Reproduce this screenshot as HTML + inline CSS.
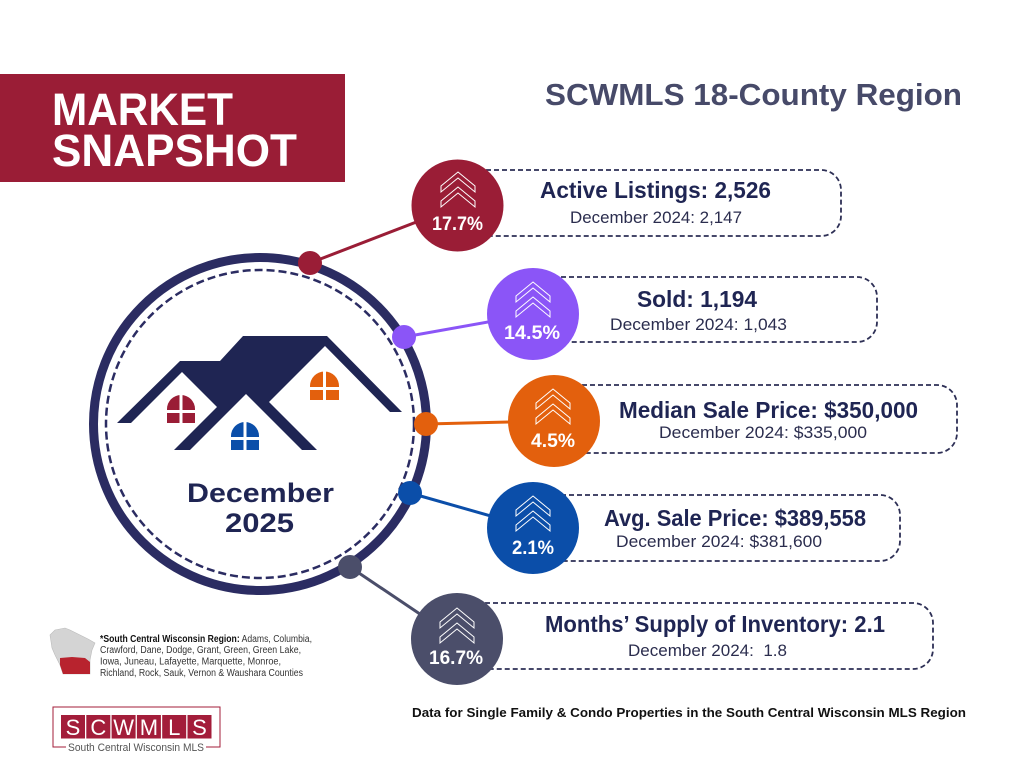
<!DOCTYPE html>
<html>
<head>
<meta charset="utf-8">
<style>
  html,body{margin:0;padding:0;background:#ffffff;}
  svg{display:block;}
  text{font-family:"Liberation Sans",Arial,sans-serif;}
</style>
</head>
<body>
<svg width="1022" height="764" viewBox="0 0 1022 764" xmlns="http://www.w3.org/2000/svg">
  <defs>
    <g id="chev">
      <path d="M0,14 L17,0 L34,14 L34,20 L17,6 L0,20 Z" fill="none" stroke="#ffffff" stroke-width="1" stroke-linejoin="miter"/>
      <path d="M0,29 L17,15 L34,29 L34,35 L17,21 L0,35 Z" fill="none" stroke="#ffffff" stroke-width="1" stroke-linejoin="miter"/>
    </g>
  </defs>

  <rect x="0" y="0" width="1022" height="764" fill="#ffffff"/>

  <!-- Market snapshot banner -->
  <rect x="0" y="74" width="345" height="108" fill="#9a1d36"/>
  <text x="52" y="125" font-size="45" font-weight="bold" fill="#ffffff" textLength="181" lengthAdjust="spacingAndGlyphs">MARKET</text>
  <text x="52" y="166" font-size="45" font-weight="bold" fill="#ffffff" textLength="245" lengthAdjust="spacingAndGlyphs">SNAPSHOT</text>

  <!-- Title -->
  <text x="545" y="105" font-size="31" font-weight="bold" fill="#474a69" textLength="417" lengthAdjust="spacingAndGlyphs">SCWMLS 18-County Region</text>

  <!-- Dashed boxes -->
  <g fill="#ffffff" stroke="#2d2f55" stroke-width="1.8" stroke-dasharray="5 3">
    <rect x="458" y="170" width="383" height="66" rx="20" ry="20"/>
    <rect x="533" y="277" width="344" height="65" rx="20" ry="20"/>
    <rect x="554" y="385" width="403" height="68" rx="20" ry="20"/>
    <rect x="533" y="495" width="367" height="66" rx="20" ry="20"/>
    <rect x="457" y="603" width="476" height="66" rx="20" ry="20"/>
  </g>

  <!-- Connector lines -->
  <line x1="310" y1="263" x2="458" y2="206" stroke="#9a1d36" stroke-width="3"/>
  <line x1="404" y1="337" x2="533" y2="314" stroke="#8b55f7" stroke-width="3"/>
  <line x1="426" y1="424" x2="554" y2="421" stroke="#e3600d" stroke-width="3"/>
  <line x1="410" y1="493" x2="533" y2="528" stroke="#0b4ea9" stroke-width="3"/>
  <line x1="350" y1="567" x2="457" y2="639" stroke="#4b4e6a" stroke-width="3"/>

  <!-- Main ring -->
  <circle cx="260" cy="424" r="166.5" fill="#ffffff" stroke="#2b2c62" stroke-width="9"/>
  <circle cx="260" cy="424" r="154" fill="none" stroke="#2b2c62" stroke-width="2.5" stroke-dasharray="8 4"/>

  <!-- Ring dots -->
  <circle cx="310" cy="263" r="12" fill="#9a1d36"/>
  <circle cx="404" cy="337" r="12" fill="#8b55f7"/>
  <circle cx="426" cy="424" r="12" fill="#e3600d"/>
  <circle cx="410" cy="493" r="12" fill="#0b4ea9"/>
  <circle cx="350" cy="567" r="12" fill="#4b4e6a"/>

  <!-- Houses -->
  <polygon fill="#1f2553" points="117,423 180,361 220,361 243,336 327,336 402,412 390,412 325,346 269,402 317,450 302,450 246,394 190,450 174,450 217,407 182,372 131,423"/>

  <!-- Windows -->
  <g>
    <path d="M167,409 A14,14 0 0 1 195,409 L195,423 L167,423 Z" fill="#9a1d36"/>
    <rect x="179.5" y="394" width="3" height="30" fill="#ffffff"/>
    <rect x="166" y="410" width="30" height="3" fill="#ffffff"/>
  </g>
  <g>
    <path d="M231,436 A14,14 0 0 1 259,436 L259,450 L231,450 Z" fill="#0b4ea9"/>
    <rect x="243.5" y="421" width="3" height="30" fill="#ffffff"/>
    <rect x="230" y="437" width="30" height="3" fill="#ffffff"/>
  </g>
  <g>
    <path d="M310,386 A14.5,14.5 0 0 1 339,386 L339,400 L310,400 Z" fill="#e3600d"/>
    <rect x="323" y="371" width="3" height="30" fill="#ffffff"/>
    <rect x="309" y="387" width="31" height="3" fill="#ffffff"/>
  </g>

  <!-- December 2025 -->
  <text x="187" y="502" font-size="27" font-weight="bold" fill="#1f2553" textLength="147" lengthAdjust="spacingAndGlyphs">December</text>
  <text x="225" y="532" font-size="27" font-weight="bold" fill="#1f2553" textLength="69" lengthAdjust="spacingAndGlyphs">2025</text>

  <!-- Badge circles -->
  <circle cx="457.5" cy="205.5" r="46" fill="#9a1d36"/>
  <circle cx="533" cy="314" r="46" fill="#8b55f7"/>
  <circle cx="554" cy="421" r="46" fill="#e3600d"/>
  <circle cx="533" cy="528" r="46" fill="#0b4ea9"/>
  <circle cx="457" cy="639" r="46" fill="#4b4e6a"/>

  <!-- Chevrons -->
  <use href="#chev" x="441" y="172"/>
  <use href="#chev" x="516" y="282"/>
  <use href="#chev" x="536" y="389"/>
  <use href="#chev" x="516" y="496"/>
  <use href="#chev" x="440" y="608"/>

  <!-- Percentages -->
  <g font-size="19" font-weight="bold" fill="#ffffff" text-anchor="middle">
    <text x="457.5" y="230" textLength="51" lengthAdjust="spacingAndGlyphs">17.7%</text>
    <text x="532" y="339" textLength="56" lengthAdjust="spacingAndGlyphs">14.5%</text>
    <text x="553" y="447" textLength="44" lengthAdjust="spacingAndGlyphs">4.5%</text>
    <text x="533" y="554" textLength="42" lengthAdjust="spacingAndGlyphs">2.1%</text>
    <text x="456" y="664" textLength="54" lengthAdjust="spacingAndGlyphs">16.7%</text>
  </g>

  <!-- Metric headings -->
  <g font-size="23" font-weight="bold" fill="#1f2553">
    <text x="540" y="198" textLength="231" lengthAdjust="spacingAndGlyphs">Active Listings: 2,526</text>
    <text x="637" y="307" textLength="120" lengthAdjust="spacingAndGlyphs">Sold: 1,194</text>
    <text x="619" y="418" textLength="299" lengthAdjust="spacingAndGlyphs">Median Sale Price: $350,000</text>
    <text x="604" y="526" textLength="262" lengthAdjust="spacingAndGlyphs">Avg. Sale Price: $389,558</text>
    <text x="545" y="632" textLength="340" lengthAdjust="spacingAndGlyphs">Months’ Supply of Inventory: 2.1</text>
  </g>

  <!-- Metric subtexts -->
  <g font-size="16.5" fill="#2b2d4e">
    <text x="570" y="223" textLength="172" lengthAdjust="spacingAndGlyphs">December 2024: 2,147</text>
    <text x="610" y="330" textLength="177" lengthAdjust="spacingAndGlyphs">December 2024: 1,043</text>
    <text x="659" y="438" textLength="208" lengthAdjust="spacingAndGlyphs">December 2024: $335,000</text>
    <text x="616" y="547" textLength="206" lengthAdjust="spacingAndGlyphs">December 2024: $381,600</text>
    <text x="628" y="656" textLength="159" lengthAdjust="spacingAndGlyphs" xml:space="preserve">December 2024:  1.8</text>
  </g>

  <!-- Bottom data note -->
  <text x="412" y="717" font-size="12.5" font-weight="bold" fill="#111111" textLength="554" lengthAdjust="spacingAndGlyphs">Data for Single Family &amp; Condo Properties in the South Central Wisconsin MLS Region</text>

  <!-- Wisconsin map -->
  <path d="M50,635 L55,630 L65,628 L70,630 L80,635 L88,639 L95,643 L92,650 L90,660 L90,674 L63,674 L60,665 L55,655 L52,648 Z" fill="#d4d4d4" stroke="#bcbcbc" stroke-width="0.6"/>
  <path d="M60,658 L72,657 L85,658 L90,662 L90,674 L63,674 L60,665 Z" fill="#b8232e"/>

  <!-- Footnote -->
  <g font-size="10" fill="#333333">
    <text x="100" y="642" textLength="212" lengthAdjust="spacingAndGlyphs"><tspan font-weight="bold" fill="#111111">*South Central Wisconsin Region:</tspan> Adams, Columbia,</text>
    <text x="100" y="653" textLength="201" lengthAdjust="spacingAndGlyphs">Crawford, Dane, Dodge, Grant, Green, Green Lake,</text>
    <text x="100" y="664.5" textLength="181" lengthAdjust="spacingAndGlyphs">Iowa, Juneau, Lafayette, Marquette, Monroe,</text>
    <text x="100" y="676" textLength="203" lengthAdjust="spacingAndGlyphs">Richland, Rock, Sauk, Vernon &amp; Waushara Counties</text>
  </g>

  <!-- SCWMLS logo -->
  <g stroke="#a31d3a" stroke-width="1" fill="none">
    <polyline points="66,747 53,747 53,707 220,707 220,747 206,747"/>
  </g>
  <g fill="#a31d3a">
    <rect x="61" y="715" width="24" height="23.5"/>
    <rect x="86.3" y="715" width="24" height="23.5"/>
    <rect x="111.6" y="715" width="24" height="23.5"/>
    <rect x="136.9" y="715" width="24" height="23.5"/>
    <rect x="162.2" y="715" width="24" height="23.5"/>
    <rect x="187.5" y="715" width="24" height="23.5"/>
  </g>
  <g font-size="22" fill="#ffffff" text-anchor="middle">
    <text x="73" y="735">S</text>
    <text x="98.3" y="735">C</text>
    <text x="123.6" y="735">W</text>
    <text x="148.9" y="735">M</text>
    <text x="174.2" y="735">L</text>
    <text x="199.5" y="735">S</text>
  </g>
  <text x="68" y="751" font-size="11" fill="#555555" textLength="136" lengthAdjust="spacingAndGlyphs">South Central Wisconsin MLS</text>
</svg>
</body>
</html>
